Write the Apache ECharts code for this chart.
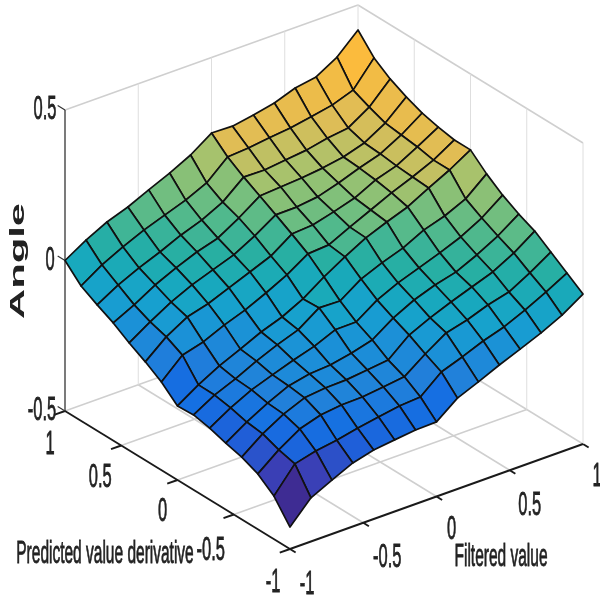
<!DOCTYPE html>
<html><head><meta charset="utf-8">
<style>html,body{margin:0;padding:0;background:#fff}#c{width:600px;height:603px}</style>
<script src="https://cdn.jsdelivr.net/npm/echarts@6/dist/echarts.min.js"></script>
</head><body><div id="c"></div>
<script>
const filteredValues=[-1,-0.857,-0.714,-0.571,-0.429,-0.286,-0.143,0,0.143,0.286,0.429,0.571,0.714,0.857,1];
const predictedValues=[-1,-0.857,-0.714,-0.571,-0.429,-0.286,-0.143,0,0.143,0.286,0.429,0.571,0.714,0.857,1];
const angleRow0=[-.427,-.355,-.321,-.289,-.271,-.262,-.254,-.252,-.198,-.169,-.138,-.110,-.081,-.047,-.002];
const angleRow1=[-.357,-.275,-.257,-.246,-.231,-.219,-.207,-.202,-.144,-.119,-.091,-.069,-.038,-.003,.035];
const angleRow2=[-.316,-.261,-.217,-.195,-.187,-.185,-.177,-.168,-.117,-.072,-.054,-.029,-.011,.028,.072];
const angleRow3=[-.293,-.241,-.200,-.171,-.163,-.161,-.153,-.145,-.087,-.055,-.027,-.002,.023,.061,.109];
const angleRow4=[-.279,-.234,-.196,-.164,-.149,-.144,-.130,-.111,-.063,-.028,-.003,.015,.047,.085,.133];
const angleRow5=[-.262,-.220,-.185,-.160,-.136,-.115,-.085,-.084,-.036,-.004,.021,.046,.074,.112,.163];
const angleRow6=[-.251,-.210,-.181,-.147,-.118,-.093,-.045,-.047,.001,.030,.054,.089,.111,.143,.201];
const angleRow7=[-.254,-.209,-.171,-.140,-.108,-.083,-.048,0,.042,.080,.108,.133,.171,.206,.248];
const angleRow8=[-.207,-.143,-.124,-.093,-.068,-.036,-.001,.044,.049,.083,.115,.147,.175,.206,.248];
const angleRow9=[-.173,-.115,-.074,-.055,-.027,.001,.029,.077,.082,.101,.122,.157,.179,.217,.258];
const angleRow10=[-.143,-.098,-.057,-.025,0,.025,.063,.108,.109,.118,.139,.164,.186,.224,.272];
const angleRow11=[-.109,-.074,-.033,-.001,.027,.048,.090,.138,.143,.148,.156,.168,.190,.231,.293];
const angleRow12=[-.082,-.041,-.009,.019,.050,.075,.110,.168,.167,.175,.183,.198,.207,.251,.320];
const angleRow13=[-.052,-.007,.028,.059,.084,.109,.141,.202,.207,.216,.224,.236,.250,.275,.357];
const angleRow14=[0,.043,.078,.103,.135,.166,.201,.249,.247,.259,.274,.299,.311,.352,.417];
const angleRows=[angleRow0,angleRow1,angleRow2,angleRow3,angleRow4,angleRow5,angleRow6,angleRow7,angleRow8,angleRow9,angleRow10,angleRow11,angleRow12,angleRow13,angleRow14];
const filteredTicks=[-1,-0.5,0,0.5,1];
const predictedTicks=[-1,-0.5,0,0.5,1];
const angleTicks=[-0.5,0,0.5];
const filteredTickLabels=['-1','-0.5','0','0.5','1'];
const predictedTickLabels=['-1','-0.5','0','0.5','1'];
const angleTickLabels=['-0.5','0','0.5'];

function project(f,p,a){
  const sf=(f+1)/2, sp=(p+1)/2;
  return [290+293*sf-225*sp, 549-105*sf-138*sp-301*(a+0.5)];
}
const rampValues=[-.427,-.355,-.29,-.25,-.2,-.15,-.1,-.05,0,.05,.1,.15,.2,.275,.42];
const rampColors=['#3e2c93','#3a40b6','#1f5fd9','#1570e2','#2180da','#1c8ed8','#17a0d0','#18a9bc','#28afa2','#52b98c','#80c07a','#aec26a','#dfbd56','#fbbb3d','#ffc030'];
function rampColor(z){
  for(let k=0;k<rampValues.length-1;k++){
    if(z<=rampValues[k+1]){
      const t=Math.max(0,(z-rampValues[k])/(rampValues[k+1]-rampValues[k]));
      return echarts.color.lerp(t,[rampColors[k],rampColors[k+1]]);
    }
  }
  return rampColors[rampColors.length-1];
}
const cells=[];
for(let s=26;s>=0;s--){
  for(let j=0;j<14;j++){const i=s-j; if(i>=0&&i<14) cells.push([i,j]);}
}
const segs=[];
const LIGHT=0,WALL=1,AXIS=2,ZAXIS=3;
segs.push([-1,1,0.5,1,1,0.5,LIGHT],[1,1,0.5,1,-1,0.5,LIGHT],[-1,1,-0.5,1,1,-0.5,LIGHT],[1,1,-0.5,1,-1,-0.5,LIGHT]);
filteredTicks.forEach(f=>{
  if(f>-1&&f<1) segs.push([f,-1,-0.5,f,1,-0.5,LIGHT]);
  if(f>-1) segs.push([f,1,-0.5,f,1,0.5,WALL]);
  segs.push([f,-1,-0.5,f,-1.05,-0.5,AXIS]);
});
predictedTicks.forEach(p=>{
  if(p>-1&&p<1) segs.push([-1,p,-0.5,1,p,-0.5,LIGHT]);
  if(p<1) segs.push([1,p,-0.5,1,p,0.5,WALL]);
  segs.push([-1,p,-0.5,-1.07,p,-0.5,AXIS]);
});
angleTicks.forEach(a=>segs.push([-1,1,a,-1,1.065,a,ZAXIS]));
segs.push([-1,1,-0.5,-1,1,0.5,ZAXIS],[-1,1,-0.5,-1,-1,-0.5,AXIS],[-1,-1,-0.5,1,-1,-0.5,AXIS]);
const segStyle=[{stroke:'#cfcfcf',lineWidth:1.5},{stroke:'#dedede',lineWidth:1},{stroke:'#1a1a1a',lineWidth:1.9},{stroke:'#333',lineWidth:1.3}];

const texts=[];
const fOff=[[17,36],[24,35],[15,33],[20,36],[14,33]];
const pOff=[[-17,34],[-23,36],[-15,32],[-21,32],[-15,34]];
const aOff=[[-23,0],[-15,0],[-20,0]];
filteredTicks.forEach((f,k)=>texts.push([filteredTickLabels[k],f,-1,-0.5,fOff[k][0],fOff[k][1],33,0.5,0,false]));
predictedTicks.forEach((p,k)=>texts.push([predictedTickLabels[k],-1,p,-0.5,pOff[k][0],pOff[k][1],33,0.5,0,false]));
angleTicks.forEach((a,k)=>texts.push([angleTickLabels[k],-1,1,a,aOff[k][0],aOff[k][1],33,0.5,0,false]));
const axisNames=[
  ['Predicted value derivative',105,554,31,0.5,0,false],
  ['Filtered value',501,557,31,0.5,0,false],
  ['Angle',18,261,20,2.09,Math.PI/2,true]
];

function frameItem(params,api){
  const s=segs[api.value(0)];
  const a=api.coord(project(s[0],s[1],s[2])), b=api.coord(project(s[3],s[4],s[5]));
  return {type:'line',shape:{x1:a[0],y1:a[1],x2:b[0],y2:b[1]},style:Object.assign({fill:null},segStyle[s[6]])};
}
function cellItem(params,api){
  const i=api.value(0), j=api.value(1);
  const v=(a,b)=>api.coord(project(filteredValues[a],predictedValues[b],angleRows[b][a]));
  return {type:'polygon',shape:{points:[v(i,j),v(i+1,j),v(i+1,j+1),v(i,j+1)]},
    style:{fill:rampColor(angleRows[j][i]),stroke:'#111',lineWidth:1.7,lineJoin:'round'}};
}
function textEl(t,px,py,size,sx,rot,bold){
  return {type:'text',x:px,y:py,scaleX:sx,rotation:rot,
    style:{x:0,y:0,text:t,align:'center',verticalAlign:'middle',fill:'#222',stroke:'#222',lineWidth:bold?0:0.8,
      font:(bold?'bold ':'')+size+'px "Liberation Sans", Arial, sans-serif'}};
}
function tickTextItem(params,api){
  const t=texts[api.value(0)];
  const c=api.coord(project(t[1],t[2],t[3]));
  return textEl(t[0],c[0]+t[4],c[1]+t[5],t[6],t[7],t[8],t[9]);
}
function nameItem(params,api){
  const n=axisNames[api.value(0)];
  const c=api.coord([n[1],n[2]]);
  return textEl(n[0],c[0],c[1],n[3],n[4],n[5],n[6]);
}
const chart=echarts.init(document.getElementById('c'),null,{renderer:'canvas',width:600,height:603});
chart.setOption({
  animation:false,
  backgroundColor:'#fff',
  grid:{left:0,right:0,top:0,bottom:0},
  xAxis:{type:'value',min:0,max:600,show:false},
  yAxis:{type:'value',min:0,max:603,inverse:true,show:false},
  tooltip:{show:false},
  series:[
    {type:'custom',name:'frame',silent:true,clip:false,data:segs.map((s,k)=>[k]),encode:{x:[],y:[]},renderItem:frameItem},
    {type:'custom',name:'Angle',silent:true,clip:false,data:cells,encode:{x:[],y:[]},renderItem:cellItem},
    {type:'custom',name:'tick labels',silent:true,clip:false,data:texts.map((s,k)=>[k]),encode:{x:[],y:[]},renderItem:tickTextItem},
    {type:'custom',name:'axis names',silent:true,clip:false,data:axisNames.map((s,k)=>[k]),encode:{x:[],y:[]},renderItem:nameItem}
  ]
});
</script></body></html>
